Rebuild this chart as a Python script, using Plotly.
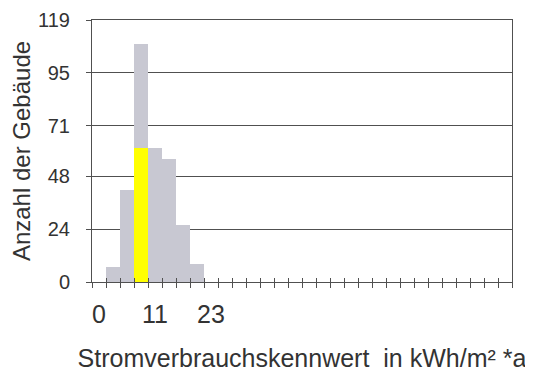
import plotly.graph_objects as go

# Data (histogram, one category per bin)
bin_index = [1, 2, 3, 4, 5, 6, 7]
counts = [7, 42, 108, 61, 56, 26, 8]
highlight_index = [3]
highlight_count = [61]
n_bins = 30
y_ticks = [0, 24, 48, 71, 95, 119]
x_tick_index = [0, 4, 8]
x_tick_labels = ["0", "11", "23"]

AX = "#505050"
TXT = "#333333"
FONT = "Liberation Sans, Arial, sans-serif"

fig = go.Figure()
fig.add_trace(go.Bar(x=bin_index, y=counts, width=1,
                     marker=dict(color="#c8c8d2", line=dict(width=0)),
                     showlegend=False, hoverinfo="skip"))
fig.add_trace(go.Bar(x=highlight_index, y=highlight_count, width=0.95,
                     marker=dict(color="#ffff00", line=dict(width=0)),
                     showlegend=False, hoverinfo="skip"))
# empty trace to carry the overlay axis that draws the upward half of the ticks
fig.add_trace(go.Scatter(x=[], y=[], xaxis="x2", showlegend=False))

xr = [-0.5, n_bins - 0.5]

fig.update_layout(
    width=525, height=365,
    margin=dict(l=84, r=21, t=12, b=91),
    paper_bgcolor="white", plot_bgcolor="white",
    barmode="overlay", bargap=0,
    font=dict(family=FONT, color=TXT),
    xaxis=dict(
        range=xr, automargin=False,
        tickvals=x_tick_index, ticktext=x_tick_labels,
        ticks="", ticklabelstandoff=10,
        showline=True, linecolor=AX, linewidth=1, mirror=True,
        showgrid=False, zeroline=False,
        minor=dict(tick0=0.5, dtick=1, ticks="outside", ticklen=5, tickcolor=AX, showgrid=False),
        tickfont=dict(size=25, color=TXT),
        title=dict(text="Stromverbrauchskennwert  in kWh/m² *a", standoff=22,
                   font=dict(size=25, color=TXT)),
    ),
    xaxis2=dict(
        range=xr, overlaying="x", anchor="y", side="bottom", automargin=False,
        tick0=0.5, dtick=1, ticks="inside", ticklen=4, tickcolor=AX,
        showticklabels=False, showgrid=False, zeroline=False, showline=False,
    ),
    yaxis=dict(
        range=[0, 119], automargin=False,
        tickvals=y_ticks,
        ticks="outside", ticklen=5, tickcolor=AX,
        ticklabelstandoff=12,
        showline=True, linecolor=AX, linewidth=1, mirror=True,
        showgrid=True, gridcolor=AX, gridwidth=1,
        zeroline=False,
        tickfont=dict(size=20, color=TXT),
        title=dict(text="Anzahl der Gebäude", standoff=4,
                   font=dict(size=24, color=TXT)),
    ),
)

fig.write_html("out.html")
